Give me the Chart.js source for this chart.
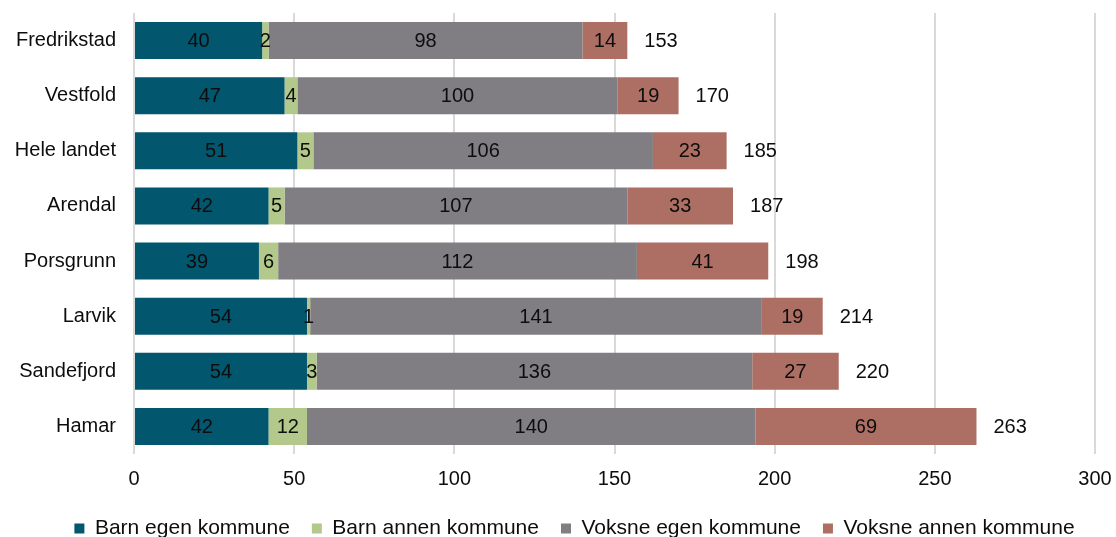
<!DOCTYPE html>
<html>
<head>
<meta charset="utf-8">
<script src="https://cdn.jsdelivr.net/npm/chart.js@4/dist/chart.umd.min.js"></script>
<style>
  html, body { margin: 0; padding: 0; background: #ffffff; }
  #wrap { width: 1116px; height: 537px; position: relative; }
</style>
</head>
<body>
<div id="wrap"><canvas id="c"></canvas></div>
<script>
const categories = ['Fredrikstad', 'Vestfold', 'Hele landet', 'Arendal', 'Porsgrunn', 'Larvik', 'Sandefjord', 'Hamar'];
const barnEgen = [40, 47, 51, 42, 39, 54, 54, 42];
const barnAnnen = [2, 4, 5, 5, 6, 1, 3, 12];
const voksneEgen = [98, 100, 106, 107, 112, 141, 136, 140];
const voksneAnnen = [14, 19, 23, 33, 41, 19, 27, 69];
const totals = [153, 170, 185, 187, 198, 214, 220, 263];
const xTicks = [0, 50, 100, 150, 200, 250, 300];

const FONT = "'Liberation Sans', Arial, sans-serif";
const TEXT = '#0d0d0d';

const labelPlugin = {
  id: 'segLabels',
  afterLayout(chart) {
    const lg = chart.legend;
    if (lg) { lg.left += 27; lg.right += 27; lg.top += 2; lg.bottom += 2; }
  },
  afterDatasetsDraw(chart) {
    const ctx = chart.ctx;
    ctx.save();
    ctx.font = '20px ' + FONT;
    ctx.fillStyle = TEXT;
    ctx.textBaseline = 'middle';
    chart.data.datasets.forEach((ds, i) => {
      const meta = chart.getDatasetMeta(i);
      meta.data.forEach((el, j) => {
        const v = ds.data[j];
        ctx.textAlign = 'center';
        ctx.fillText(String(v), (el.x + el.base) / 2, el.y + 1);
      });
    });
    const last = chart.getDatasetMeta(chart.data.datasets.length - 1);
    last.data.forEach((el, j) => {
      ctx.textAlign = 'left';
      ctx.fillText(String(totals[j]), el.x + 17, el.y + 1);
    });
    ctx.restore();
  }
};

new Chart(document.getElementById('c'), {
  type: 'bar',
  data: {
    labels: categories,
    datasets: [
      { label: 'Barn egen kommune', data: barnEgen, backgroundColor: '#02566E' },
      { label: 'Barn annen kommune', data: barnAnnen, backgroundColor: '#B3C98B' },
      { label: 'Voksne egen kommune', data: voksneEgen, backgroundColor: '#807E82' },
      { label: 'Voksne annen kommune', data: voksneAnnen, backgroundColor: '#AD6F63' }
    ]
  },
  options: {
    indexAxis: 'y',
    responsive: true,
    maintainAspectRatio: false,
    animation: false,
    devicePixelRatio: 1,
    datasets: { bar: { barPercentage: 0.671, categoryPercentage: 1.0, borderWidth: 0 } },
    layout: { padding: { top: 13, right: 21, bottom: 0, left: 0 } },
    scales: {
      x: {
        stacked: true,
        min: 0,
        max: 300,
        afterBuildTicks(s) { s.ticks = xTicks.map(v => ({ value: v })); },
        afterFit(s) { s.height = 40; },
        grid: { color: '#d9d9d9', lineWidth: 2, drawTicks: true, tickLength: 13, tickColor: 'rgba(0,0,0,0)' },
        border: { display: false },
        ticks: { font: { family: FONT, size: 20 }, color: TEXT, padding: 0 }
      },
      y: {
        stacked: true,
        afterFit(s) { s.width = 134; },
        grid: { display: false, drawTicks: true, tickLength: 18 },
        border: { display: false },
        ticks: { font: { family: FONT, size: 20 }, color: TEXT, padding: 0 }
      }
    },
    plugins: {
      legend: {
        position: 'bottom',
        maxHeight: 43,
        labels: {
          font: { family: FONT, size: 21 },
          color: TEXT,
          boxWidth: 10,
          boxHeight: 10,
          padding: 22
        }
      },
      tooltip: { enabled: false }
    }
  },
  plugins: [labelPlugin]
});
</script>
</body>
</html>
